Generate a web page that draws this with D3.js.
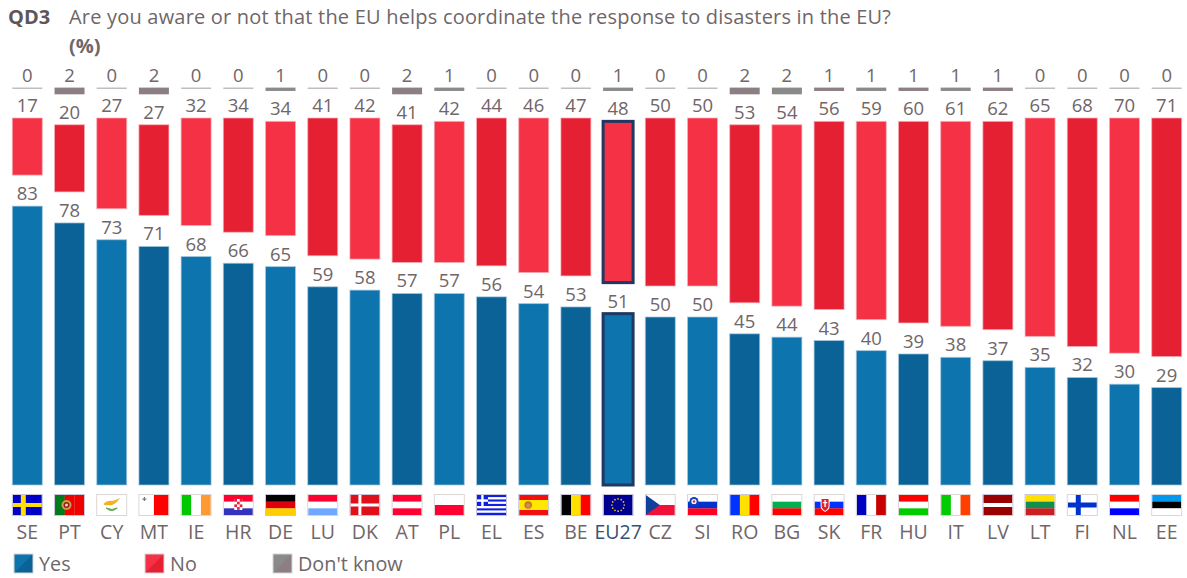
<!DOCTYPE html>
<html><head><meta charset="utf-8">
<script src="https://cdn.jsdelivr.net/npm/d3@7"></script>
<style>html,body{margin:0;background:#fff}svg{display:block}text{font-family:"Open Sans","Noto Sans",sans-serif}</style>
</head><body><div id="c"></div>
<script>
const countries=["SE","PT","CY","MT","IE","HR","DE","LU","DK","AT","PL","EL","ES","BE","EU27","CZ","SI","RO","BG","SK","FR","HU","IT","LV","LT","FI","NL","EE"];
const yes=[83,78,73,71,68,66,65,59,58,57,57,56,54,53,51,50,50,45,44,43,40,39,38,37,35,32,30,29];
const no=[17,20,27,27,32,34,34,41,42,41,42,44,46,47,48,50,50,53,54,56,59,60,61,62,65,68,70,71];
const dontKnow=[0,2,0,2,0,0,1,0,0,2,1,0,0,0,1,0,0,2,2,1,1,1,1,1,0,0,0,0];
const legendLabels=["Yes","No","Don't know"];
const titleCode="QD3";
const titleText="Are you aware or not that the EU helps coordinate the response to disasters in the EU?";
const titleUnit="(%)";
const flagStripes={
 SE:["h",["#0000c8"]],PT:["v",["#007a1a","#f00000","#f00000"]],CY:["h",["#ffffff"]],MT:["v",["#ffffff","#ff0000"]],
 IE:["v",["#00c800","#ffffff","#ff9933"]],HR:["h",["#ff0033","#ffffff","#3333bb"]],DE:["h",["#000000","#e0000d","#ffce00"]],
 LU:["h",["#ff0033","#ffffff","#6fa8ff"]],DK:["h",["#e0101a"]],AT:["h",["#ff0033","#ffffff","#ff0033"]],PL:["h",["#ffffff","#ff0033"]],
 EL:["h",["#1020e0","#ffffff","#1020e0","#ffffff","#1020e0","#ffffff","#1020e0","#ffffff","#1020e0"]],
 ES:["h",["#f01010","#ffe800","#ffe800","#f01010"]],BE:["v",["#000000","#ffe000","#ff0000"]],EU27:["h",["#000090"]],
 CZ:["h",["#ffffff","#f0103a"]],SI:["h",["#ffffff","#0033cc","#ff0022"]],RO:["v",["#0033ff","#ffe000","#ff0000"]],
 BG:["h",["#ffffff","#00b050","#ff0000"]],SK:["h",["#ffffff","#0033ff","#ff0000"]],FR:["v",["#0000c0","#ffffff","#c80000"]],
 HU:["h",["#ff0000","#ffffff","#00cc00"]],IT:["v",["#00cc00","#ffffff","#ff4000"]],LV:["h",["#990000","#990000","#ffffff","#990000","#990000"]],
 LT:["h",["#ffe000","#109050","#cc2020"]],FI:["h",["#ffffff"]],NL:["h",["#ff0000","#ffffff","#0000ff"]],EE:["h",["#0099ee","#000000","#ffffff"]]
};

const W=1187,H=578;
const svg=d3.select("#c").append("svg").attr("width",W).attr("height",H);
const x=d3.scaleBand().domain(countries).range([6.2,1187.8]).paddingInner(0.289).paddingOuter(0.145);
const baseY=485,yesLen=d3.scaleLinear().domain([0,100]).range([0,336]);
const noStart=118,dkStart=87.6;
const ink="#6f6669";
const pal={yes:["#0e74ad","#0a6297"],no:["#f43145","#e62033"],dk:["#8a8a8a","#8b7f83"]};
const navy="#1f3864";
const isEU=c=>c==="EU27";

const rows=countries.map((c,i)=>({c,i,yes:yes[i],no:no[i],dk:dontKnow[i],alt:i%2}));
const g=svg.append("g");
function bar(sel,y0,h,col){
  sel.attr("x",d=>x(d.c)).attr("width",x.bandwidth()).attr("y",y0).attr("height",h).attr("fill",col)
}
// yes
g.selectAll(".y").data(rows).join("rect").attr("class","y")
 .call(bar,d=>baseY-yesLen(d.yes),d=>yesLen(d.yes),d=>pal.yes[d.alt])
 .attr("stroke",d=>isEU(d.c)?navy:"#a9cbe0").attr("stroke-opacity",d=>isEU(d.c)?1:0.7).attr("stroke-width",d=>isEU(d.c)?3:1);
// no
g.selectAll(".n").data(rows).join("rect").attr("class","n")
 .call(bar,d=>noStart+yesLen(d.dk),d=>yesLen(d.no),d=>pal.no[d.alt])
 .attr("stroke",d=>isEU(d.c)?navy:"#f7b0b8").attr("stroke-opacity",d=>isEU(d.c)?1:0.7).attr("stroke-width",d=>isEU(d.c)?3:1);
// don't know
g.selectAll(".d").data(rows).join("rect").attr("class","d")
 .call(bar,dkStart,d=>Math.max(yesLen(d.dk),1.2),d=>d.dk?pal.dk[d.alt]:"#b4adaf");

function labels(cls,val,yPos){
  g.selectAll("."+cls).data(rows).join("text").attr("class",cls)
   .attr("x",d=>x(d.c)+x.bandwidth()/2).attr("y",yPos).attr("text-anchor","middle")
   .attr("font-size",18.5).attr("fill",ink).text(val);
}
labels("ly",d=>d.yes,d=>baseY-yesLen(d.yes)-6);
labels("ln",d=>d.no,d=>noStart+yesLen(d.dk)-6);
labels("ld",d=>d.dk,81.5);

// axis labels
const axis=d3.axisBottom(x).tickSize(0).tickPadding(0);
const ax=svg.append("g").attr("transform","translate(0,525.5)").call(axis);
ax.select(".domain").remove();
ax.selectAll("text").attr("font-size",19.5).style("font-family",'"Open Sans","Noto Sans",sans-serif')
  .attr("fill",d=>isEU(d)?"#33517a":ink).attr("dy","0.7em").attr("y",0);

// flags
const fw=29,fh=20,fy=495;
const flags=svg.append("g").selectAll("g").data(rows).join("g")
 .attr("transform",d=>`translate(${x(d.c)+x.bandwidth()/2-fw/2},${fy})`);
flags.each(function(d){
  const s=d3.select(this),[dir,cols]=flagStripes[d.c];
  const idx=d3.range(cols.length);
  const band=d3.scaleBand().domain(idx).range([0,dir==="h"?fh:fw]);
  s.selectAll("rect").data(idx).join("rect")
   .attr("x",i=>dir==="h"?0:band(i)).attr("y",i=>dir==="h"?band(i):0)
   .attr("width",dir==="h"?fw:band.bandwidth()+.2).attr("height",dir==="h"?band.bandwidth()+.2:fh)
   .attr("fill",i=>cols[i]);
  const R=(a,b,w,h,f)=>s.append("rect").attr("x",a).attr("y",b).attr("width",w).attr("height",h).attr("fill",f);
  const C=(a,b,r,f)=>s.append("circle").attr("cx",a).attr("cy",b).attr("r",r).attr("fill",f);
  if(d.c==="SE"){R(8,0,5,fh,"#ffe000");R(0,8,fw,4,"#ffe000");}
  if(d.c==="DK"){R(8,0,3,fh,"#fff");R(0,8.5,fw,3,"#fff");}
  if(d.c==="FI"){R(8,0,5,fh,"#0033cc");R(0,7.5,fw,5,"#0033cc");}
  if(d.c==="PT"){C(11.5,10,5,"#c8a040");C(11.5,10,3,"#a01818");C(11.5,10,1.5,"#d8d8d8");}
  if(d.c==="MT"){R(3,3.5,4,1.2,"#777");R(4.4,2,1.2,4,"#777");}
  if(d.c==="CY"){
    s.append("path").attr("d","M6 9 Q10 5 15 6 Q19 5 23 3 Q20 7 17 9 Q14 11 11 10 Q8 11 6 9Z").attr("fill","#f5b020");
    s.append("path").attr("d","M9 13 Q14 18 20 13 Q15 16 9 13Z").attr("fill","#60a050").attr("stroke","#60a050").attr("stroke-width",1);
  }
  if(d.c==="HR"){R(10.5,4,8,11,"#fff");
    d3.range(4).forEach(r=>d3.range(3).forEach(k=>{if((r+k)%2==0)R(10.5+k*2.7,4+r*2.7,2.7,2.7,"#e8203a");}));}
  if(d.c==="EL"){R(0,0,11,11,"#1020e0");R(4.2,0,2.4,11,"#fff");R(0,4.4,11,2.4,"#fff");}
  if(d.c==="ES"){C(9,10,3.8,"#c87030");R(7,8.5,4,4,"#d09050");}
  if(d.c==="EU27"){d3.range(12).forEach(k=>{const a=k*Math.PI/6;C(14.5+6.2*Math.cos(a),10+6.2*Math.sin(a),.85,"#e8c820");});}
  if(d.c==="CZ"){s.append("path").attr("d",`M0 0L14 ${fh/2}L0 ${fh}Z`).attr("fill","#10409a");}
  if(d.c==="SI"){C(6,6.5,4.5,"#1040c0");C(6,6.5,2.6,"#fff");C(6,6.5,1.2,"#e02030");}
  if(d.c==="SK"){s.append("path").attr("d","M6 3H15V11Q15 15 10.5 17Q6 15 6 11Z").attr("fill","#fff");
    s.append("path").attr("d","M7 4H14V11Q14 14 10.5 16Q7 14 7 11Z").attr("fill","#e02030");
    R(9.8,5,1.4,7,"#fff");R(8.3,7,4.4,1.2,"#fff");}
  const blush=["CY","MT","FI","EE","PL","CZ","SI","BG","SK","LU","AT","HR","HU","NL","IE","IT","FR"].includes(d.c);
  s.append("rect").attr("x",-.5).attr("y",-.5).attr("width",fw+1).attr("height",fh+1)
   .attr("fill","none").attr("stroke",blush?"#ddd6d6":"#c9c6dc").attr("stroke-width",1);
});

// title
const t=svg.append("g");
t.append("text").attr("x",8).attr("y",24).attr("font-size",20).attr("font-weight",700).attr("fill","#5f5659").text(titleCode);
t.append("text").attr("x",69).attr("y",24).attr("font-size",20).attr("fill",ink).attr("textLength",822).attr("lengthAdjust","spacing").text(titleText);
t.append("text").attr("x",69).attr("y",53).attr("font-size",20).attr("font-weight",700).attr("fill",ink).text(titleUnit);

// legend
const legendX=[14,145,273],legendPal=[pal.yes,pal.no,pal.dk];
const lg=svg.append("g").selectAll("g").data(legendLabels).join("g")
 .attr("transform",(d,i)=>`translate(${legendX[i]},554)`);
const sw=19;
lg.append("rect").attr("width",sw).attr("height",sw).attr("fill",(d,i)=>legendPal[i][0]);
lg.append("path").attr("d",`M${sw} 0V${sw}H0Z`).attr("fill",(d,i)=>legendPal[i][1]);
lg.append("rect").attr("width",sw).attr("height",sw).attr("fill","none").attr("stroke","#d8d4d4").attr("stroke-width",1);
lg.append("text").attr("x",25).attr("y",16.5).attr("font-size",19.8).attr("fill",ink).text(d=>d);
</script></body></html>
